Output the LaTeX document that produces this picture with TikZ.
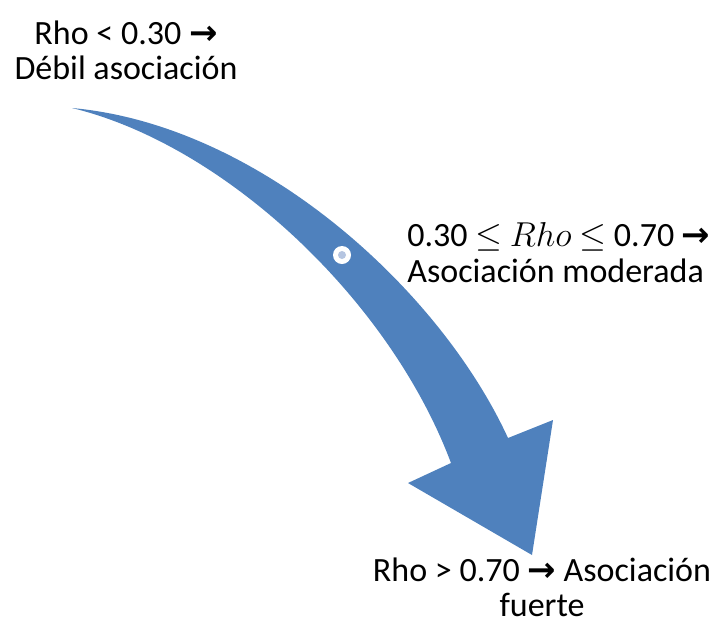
\documentclass[tikz,border=0pt]{standalone}
\usepackage{amsmath}
\usepackage{amssymb}
\usepackage{fontspec}
\setmainfont{Carlito}
\newfontfamily\arrowfont{DejaVu Sans}
\newcommand{\rarr}{{\arrowfont\bfseries →}}
\definecolor{arrowblue}{RGB}{79,129,189}
\definecolor{dotgrey}{RGB}{181,197,225}

\begin{document}
\begin{tikzpicture}[x=0.5pt,y=-0.5pt,
  rhotext/.style={font=\fontsize{17}{17.5}\selectfont, inner sep=0pt, align=center}]
\useasboundingbox (0,0) rectangle (721,623);

\fill [arrowblue] (72,108) .. controls (260,125) and (440,290) .. (508,438)
  -- (553,420) -- (532,555) -- (408,483) -- (451,463)
  .. controls (390,300) and (225,145) .. (72,108) -- cycle;
\fill [white] (342,255) circle (4.5pt);
\fill [dotgrey] (342,255) circle (2pt);

\node [rhotext, anchor=north] (weak) at (126,20) {Rho < 0.30 \rarr\\Débil asociación};
\node [rhotext, align=left, anchor=north west] (moderate) at (407,222) {0.30 $\leq$ $Rho$ $\leq$ 0.70 \rarr\\[0.5pt]Asociación moderada};
\node [rhotext, anchor=north] (strong) at (542,557) {Rho > 0.70 \rarr{} Asociación\\fuerte};

\end{tikzpicture}
\end{document}
